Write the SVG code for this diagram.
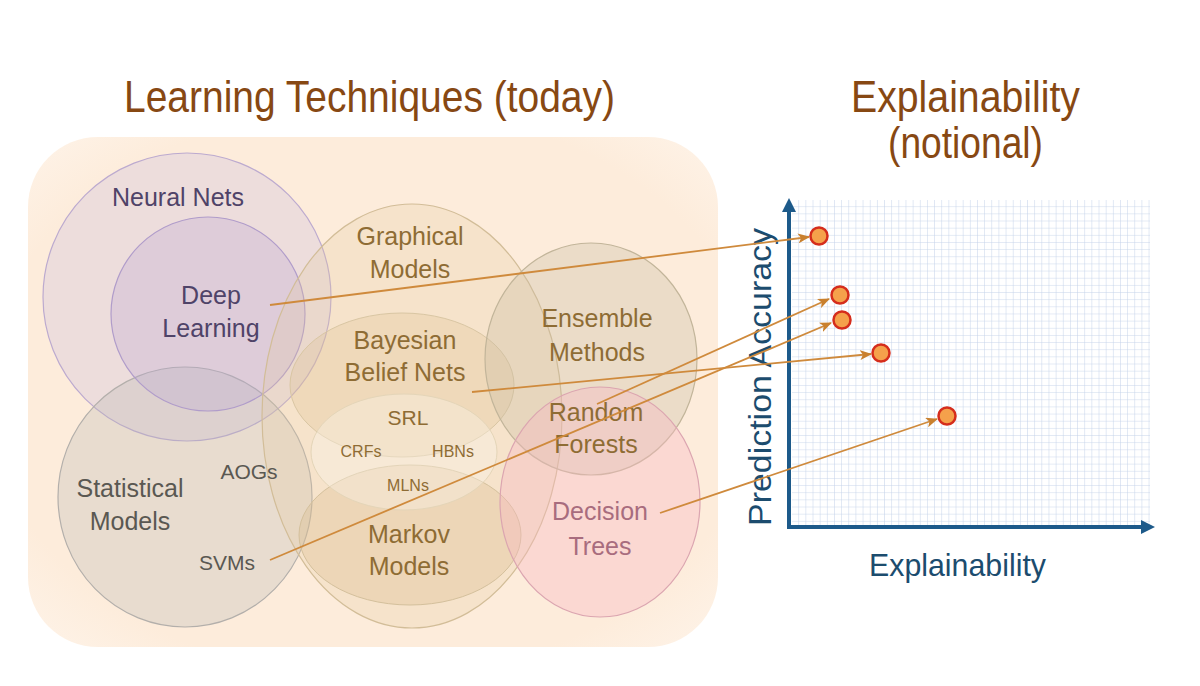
<svg xmlns="http://www.w3.org/2000/svg" width="1200" height="686" viewBox="0 0 1200 686">
  <defs>
    <pattern id="grid" x="792" y="200" width="7.15" height="7.15" patternUnits="userSpaceOnUse">
      <path d="M7.15 0V7.15H0" fill="none" stroke="#c5d3ea" stroke-width="1"/>
    </pattern>
    <marker id="arr" viewBox="0 0 12 10" refX="11" refY="5" markerWidth="12" markerHeight="10" markerUnits="userSpaceOnUse" orient="auto">
      <path d="M0 0L12 5L0 10L3 5Z" fill="#c9802e"/>
    </marker>
    <marker id="axarr" viewBox="0 0 12 12" refX="6" refY="6" markerWidth="14" markerHeight="14" markerUnits="userSpaceOnUse" orient="auto">
      <path d="M0 0L12 6L0 12Z" fill="#1d5a8a"/>
    </marker>
    <radialGradient id="bgGrad" cx="0.5" cy="0.5" r="0.7">
      <stop offset="0.8" stop-color="#fdecdb"/>
      <stop offset="1" stop-color="#fef3e8"/>
    </radialGradient>
  </defs>
  <style>
    .title { font-family: "Liberation Sans", Arial, sans-serif; fill: #874813; font-size: 44px; }
    .lbl { font-family: "Liberation Sans", Arial, sans-serif; text-anchor: middle; font-size: 25px; }
    .sm { font-size: 16px; }
    .mid { font-size: 21px; }
    .purple { fill: #4f4368; }
    .tan { fill: #8e6c34; }
    .gray { fill: #5a5852; }
    .pink { fill: #a86c7e; }
    .ax { font-family: "Liberation Sans", Arial, sans-serif; fill: #1c4c6e; font-size: 32px; }
    .conn { stroke: #cf8a3c; stroke-width: 1.8; fill: none; marker-end: url(#arr); }
    .pt { fill: #f5a14b; stroke: #d52d1c; stroke-width: 2.5; }
  </style>

  <rect width="1200" height="686" fill="#ffffff"/>

  <!-- titles -->
  <text class="title" x="124" y="112" textLength="491" lengthAdjust="spacingAndGlyphs">Learning Techniques (today)</text>
  <text class="title" x="851" y="112" textLength="229" lengthAdjust="spacingAndGlyphs">Explainability</text>
  <text class="title" x="888" y="158" textLength="155" lengthAdjust="spacingAndGlyphs">(notional)</text>

  <!-- background panel -->
  <rect id="panel" x="28" y="137" width="690" height="510" rx="70" ry="70" fill="url(#bgGrad)"/>

  <!-- Venn shapes -->
  <g id="neural-nets">
    <circle cx="187" cy="297" r="144" fill="#c9b8de" fill-opacity="0.3" stroke="#bcaacf" stroke-width="1.2"/>
  </g>
  <g id="statistical-models">
    <ellipse cx="185" cy="497" rx="127" ry="130" fill="#b8b6b4" fill-opacity="0.3" stroke="#b3afab" stroke-width="1.2"/>
  </g>
  <g id="deep-learning">
    <circle cx="208" cy="314" r="97" fill="#b8a2d4" fill-opacity="0.28" stroke="#b09cca" stroke-width="1.2"/>
  </g>
  <g id="graphical-models">
    <ellipse cx="412" cy="416" rx="150" ry="212" fill="#e4ca9e" fill-opacity="0.26" stroke="#d2bd98" stroke-width="1.2"/>
  </g>
  <g id="bayesian">
    <ellipse cx="402" cy="385" rx="112" ry="72" fill="#dcbf8d" fill-opacity="0.26" stroke="#d9c6a3" stroke-width="1"/>
  </g>
  <g id="markov">
    <ellipse cx="410" cy="535" rx="111" ry="70" fill="#d6bb8a" fill-opacity="0.3" stroke="#d4c09c" stroke-width="1"/>
  </g>
  <g id="srl">
    <ellipse cx="404" cy="452" rx="93" ry="58" fill="#fbf3e6" fill-opacity="0.4" stroke="#e4d5b8" stroke-width="1"/>
  </g>
  <g id="ensemble">
    <ellipse cx="591" cy="359" rx="106" ry="116" fill="#c8bca3" fill-opacity="0.32" stroke="#c2b59a" stroke-width="1.2"/>
  </g>
  <g id="decision-trees">
    <ellipse cx="600" cy="502" rx="100" ry="115" fill="#f6b8c2" fill-opacity="0.38" stroke="#dba5b0" stroke-width="1.2"/>
  </g>

  <!-- labels -->
  <g id="labels">
    <text class="lbl purple" x="178" y="206">Neural Nets</text>
    <text class="lbl purple" x="211" y="304">Deep</text>
    <text class="lbl purple" x="211" y="337">Learning</text>
    <text class="lbl tan" x="410" y="245">Graphical</text>
    <text class="lbl tan" x="410" y="278">Models</text>
    <text class="lbl tan" x="597" y="327">Ensemble</text>
    <text class="lbl tan" x="597" y="361">Methods</text>
    <text class="lbl tan" x="405" y="349">Bayesian</text>
    <text class="lbl tan" x="405" y="381">Belief Nets</text>
    <text class="lbl tan mid" x="408" y="425">SRL</text>
    <text class="lbl tan sm" x="361" y="457">CRFs</text>
    <text class="lbl tan sm" x="453" y="457">HBNs</text>
    <text class="lbl tan sm" x="408" y="491">MLNs</text>
    <text class="lbl gray mid" x="249" y="479">AOGs</text>
    <text class="lbl gray" x="130" y="497">Statistical</text>
    <text class="lbl gray" x="130" y="530">Models</text>
    <text class="lbl gray mid" x="227" y="570">SVMs</text>
    <text class="lbl tan" x="409" y="543">Markov</text>
    <text class="lbl tan" x="409" y="575">Models</text>
    <text class="lbl tan" x="596" y="421">Random</text>
    <text class="lbl tan" x="596" y="453">Forests</text>
    <text class="lbl pink" x="600" y="520">Decision</text>
    <text class="lbl pink" x="600" y="555">Trees</text>
  </g>

  <!-- chart -->
  <g id="chart">
    <rect x="792" y="200" width="358" height="325" fill="url(#grid)"/>
    <line x1="789" y1="529" x2="789" y2="205" stroke="#1d5a8a" stroke-width="4" marker-end="url(#axarr)"/>
    <line x1="787" y1="527" x2="1148" y2="527" stroke="#1d5a8a" stroke-width="4" marker-end="url(#axarr)"/>
    <text class="ax" transform="translate(771 526) rotate(-90)" textLength="298" lengthAdjust="spacingAndGlyphs">Prediction Accuracy</text>
    <text class="ax" x="869" y="576" textLength="177" lengthAdjust="spacingAndGlyphs">Explainability</text>
  </g>

  <!-- connectors -->
  <g id="connectors">
    <line class="conn" x1="270" y1="305" x2="809" y2="237"/>
    <line class="conn" x1="597" y1="404" x2="829" y2="299"/>
    <line class="conn" x1="270" y1="560" x2="831" y2="323"/>
    <line class="conn" x1="472" y1="392" x2="871" y2="354"/>
    <line class="conn" x1="660" y1="513" x2="937" y2="419"/>
  </g>

  <g id="points">
    <circle class="pt" cx="819" cy="236" r="8.5"/>
    <circle class="pt" cx="840" cy="295" r="8.5"/>
    <circle class="pt" cx="842" cy="320" r="8.5"/>
    <circle class="pt" cx="881" cy="353" r="8.5"/>
    <circle class="pt" cx="947" cy="416" r="8.5"/>
  </g>
</svg>
